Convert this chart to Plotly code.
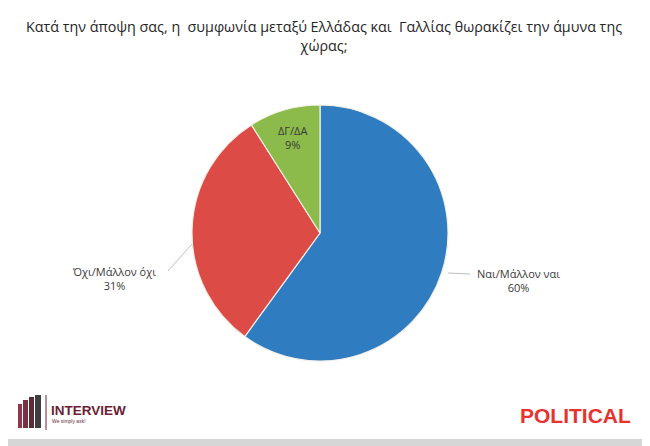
import plotly.graph_objects as go

# Data
labels = ["Ναι/Μάλλον ναι", "Όχι/Μάλλον όχι", "ΔΓ/ΔΑ"]
values = [60, 31, 9]
colors = ["#2F7DC0", "#DD4B47", "#8CBB4B"]
title_text = "Κατά την άποψη σας, η  συμφωνία μεταξύ Ελλάδας και  Γαλλίας θωρακίζει την άμυνα της<br>χώρας;"

# page body has an 8px margin; the figure covers the remaining window area
OFF = 8
W, H = 650 - OFF, 446 - OFF
cx, cy, r = 320, 233, 128

def px(x):
    return (x - OFF) / W

def py(y):
    return 1 - (y - OFF) / H

fig = go.Figure()
fig.add_trace(go.Pie(
    labels=labels,
    values=values,
    sort=False,
    direction="clockwise",
    rotation=0,
    marker=dict(colors=colors, line=dict(color="#F4F0E8", width=1.2)),
    textinfo="none",
    hoverinfo="label+percent",
    showlegend=False,
    domain=dict(x=[px(cx - r), px(cx + r)], y=[py(cy + r), py(cy - r)]),
))

lab_font = dict(family="Open Sans, Noto Sans, sans-serif", size=11, color="#3A3A3A")
label_pos = [(518, 280), (114, 278), (292, 138)]
annotations = []
for (lx, ly), lab, v in zip(label_pos, labels, values):
    annotations.append(dict(
        x=px(lx), y=py(ly), xref="paper", yref="paper",
        text=f"{lab}<br>{v}%", showarrow=False,
        font=lab_font, align="center", xanchor="center", yanchor="middle",
    ))

annotations.append(dict(
    x=px(324), y=py(36), xref="paper", yref="paper", text=title_text,
    showarrow=False, align="center", xanchor="center", yanchor="middle",
    font=dict(family="Open Sans, Noto Sans, sans-serif", size=14.3, color="#262626"),
))

# logos
annotations.append(dict(
    x=px(49), y=py(410), xref="paper", yref="paper", text="<b>INTERVIEW</b>",
    showarrow=False, xanchor="left", yanchor="middle",
    font=dict(family="Liberation Sans, Arial, sans-serif", size=13.5, color="#6B1E36"),
))
annotations.append(dict(
    x=px(50), y=py(421), xref="paper", yref="paper", text="We simply ask!",
    showarrow=False, xanchor="left", yanchor="middle",
    font=dict(family="Liberation Sans, Arial, sans-serif", size=5, color="#6B1E36"),
))
annotations.append(dict(
    x=px(633), y=py(415), xref="paper", yref="paper", text="<b>POLITICAL</b>",
    showarrow=False, xanchor="right", yanchor="middle",
    font=dict(family="Liberation Sans Narrow, Arial Narrow, Liberation Sans, sans-serif", size=21, color="#E8322F"),
))

shapes = []
# leader lines
for (x0, y0, x1, y1) in [(448, 273, 470, 274), (192, 244, 168, 271)]:
    shapes.append(dict(type="line", xref="paper", yref="paper",
                       x0=px(x0), y0=py(y0), x1=px(x1), y1=py(y1),
                       line=dict(color="#BFBFBF", width=1), layer="below"))
# logo bars
bar_specs = [(18, 22, 404), (23, 28, 400), (29, 34, 397), (35, 41, 395)]
bar_cols = ["#8A3A4C", "#7A2F42", "#5E2A36", "#3E3E42"]
for (x0, x1, y0), c in zip(bar_specs, bar_cols):
    shapes.append(dict(type="rect", xref="paper", yref="paper",
                       x0=px(x0), x1=px(x1), y0=py(428), y1=py(y0),
                       fillcolor=c, line=dict(width=0)))
shapes.append(dict(type="line", xref="paper", yref="paper",
                   x0=px(46), x1=px(46), y0=py(395), y1=py(430),
                   line=dict(color="#6B1E36", width=1)))
# bottom shadow strip
shapes.append(dict(type="rect", xref="paper", yref="paper",
                   x0=0, x1=1, y0=0, y1=py(439),
                   fillcolor="#D6D6D6", line=dict(width=0), layer="below"))

fig.update_layout(
    width=W, height=H,
    margin=dict(l=0, r=0, t=0, b=0),
    paper_bgcolor="#FFFFFF",
    plot_bgcolor="#FFFFFF",
    annotations=annotations,
    shapes=shapes,
)

fig.write_html("out.html")
